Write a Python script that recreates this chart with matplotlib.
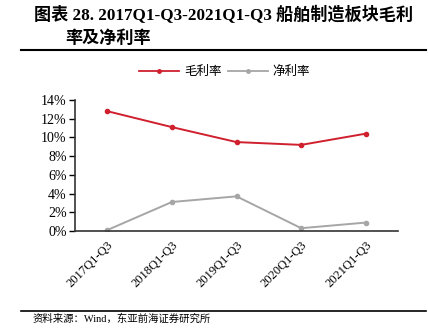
import matplotlib
matplotlib.use("Agg")
import matplotlib.pyplot as plt
from matplotlib.lines import Line2D
from matplotlib.ticker import FuncFormatter

categories = ["2017Q1-Q3", "2018Q1-Q3", "2019Q1-Q3", "2020Q1-Q3", "2021Q1-Q3"]
gross_margin = [12.8, 11.1, 9.5, 9.2, 10.4]
net_margin = [0.1, 3.1, 3.7, 0.3, 0.9]
yticks = [0, 2, 4, 6, 8, 10, 12, 14]

RED = "#d0202e"
GRAY = "#a6a6a6"
CJK = ["Liberation Serif", "Noto Sans CJK SC"]

fig = plt.figure(figsize=(4.28, 3.36), dpi=100)
ax = fig.add_axes([0.1752, 0.3125, 0.755, 0.39])

x = list(range(len(categories)))
ax.plot(x, gross_margin, color=RED, lw=1.4, marker="o", ms=3)
ax.plot(x, net_margin, color=GRAY, lw=1.4, marker="o", ms=3)

ax.set_xlim(-0.5, len(categories) - 0.5)
ax.set_ylim(0, 14)
ax.set_yticks(yticks)
ax.yaxis.set_major_formatter(FuncFormatter(lambda v, p: f"{v:.0f}%"))
ax.set_xticks(x)
ax.set_xticklabels(categories, rotation=45, ha="right", rotation_mode="anchor",
                   family="Liberation Serif", fontsize=9)
for lab in ax.get_yticklabels():
    lab.set_family("Liberation Serif")
    lab.set_fontsize(10)
ax.tick_params(axis="x", length=0, pad=6)
ax.tick_params(axis="y", length=4, width=1, direction="out", pad=2)
for s in ["top", "right"]:
    ax.spines[s].set_visible(False)
for s in ["left", "bottom"]:
    ax.spines[s].set_linewidth(1.2)
    ax.spines[s].set_color("#333333")

handles = [
    Line2D([], [], color=RED, lw=1.3, marker="o", ms=2.5),
    Line2D([], [], color=GRAY, lw=1.3, marker="o", ms=2.5),
]
fig.legend(handles, ["毛利率", "净利率"], loc="center", bbox_to_anchor=(0.525, 0.785),
           ncol=2, frameon=False, handlelength=3.2, columnspacing=0.5, handletextpad=0.4,
           prop={"family": CJK, "size": 9})

fig.text(0.08, 0.955, "图表 28. 2017Q1-Q3-2021Q1-Q3 船舶制造板块毛利",
         family=CJK, fontsize=12.3, fontweight="bold", va="center")
fig.text(0.152, 0.885, "率及净利率", family=CJK, fontsize=12.3, fontweight="bold", va="center")
fig.add_artist(Line2D([0.05, 0.995], [0.851, 0.851], color="black", lw=1.5))
fig.add_artist(Line2D([0.05, 0.995], [0.074, 0.074], color="black", lw=1.2))
fig.text(0.075, 0.052, "资料来源：Wind，东亚前海证券研究所", family=CJK, fontsize=7.5, va="center")

fig.savefig("out.png", dpi=100)
